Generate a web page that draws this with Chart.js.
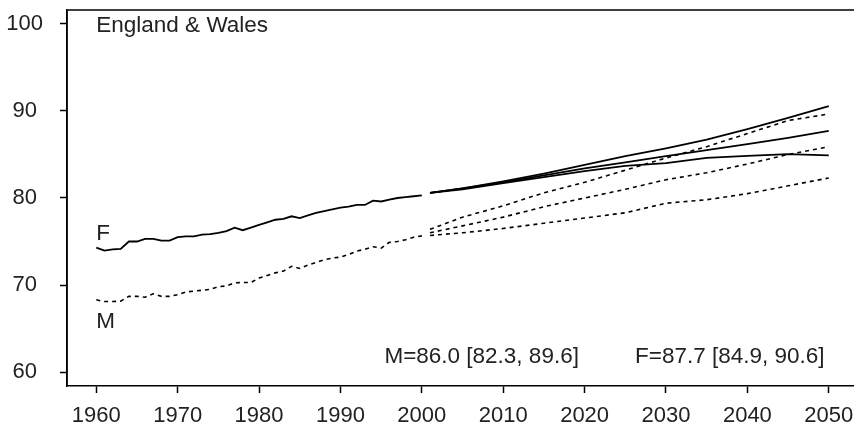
<!DOCTYPE html>
<html>
<head>
<meta charset="utf-8">
<script src="https://cdn.jsdelivr.net/npm/chart.js@4.4.0/dist/chart.umd.min.js"></script>
<style>
  html, body { margin: 0; padding: 0; background: #fff; }
  #wrap { width: 854px; height: 428px; }
</style>
</head>
<body>
<div id="wrap"><canvas id="chart" width="854" height="428"></canvas></div>
<script>
// observed years and life expectancy
const histYears = [1960, 1961, 1962, 1963, 1964, 1965, 1966, 1967, 1968, 1969,
  1970, 1971, 1972, 1973, 1974, 1975, 1976, 1977, 1978, 1979,
  1980, 1981, 1982, 1983, 1984, 1985, 1986, 1987, 1988, 1989,
  1990, 1991, 1992, 1993, 1994, 1995, 1996, 1997, 1998, 1999, 2000];
const femaleHist = [74.3, 73.95, 74.1, 74.15, 75.0, 75.0, 75.3, 75.3, 75.1, 75.1,
  75.5, 75.6, 75.6, 75.8, 75.85, 76.0, 76.2, 76.6, 76.3, 76.6,
  76.9, 77.2, 77.5, 77.6, 77.9, 77.7, 78.0, 78.3, 78.5, 78.7,
  78.9, 79.0, 79.2, 79.2, 79.7, 79.6, 79.8, 80.0, 80.1, 80.2, 80.3];
const maleHist = [68.3, 68.1, 68.1, 68.15, 68.7, 68.7, 68.6, 69.0, 68.7, 68.7,
  68.9, 69.2, 69.3, 69.4, 69.5, 69.8, 69.9, 70.25, 70.3, 70.3,
  70.8, 71.1, 71.4, 71.6, 72.15, 71.9, 72.3, 72.6, 72.9, 73.1,
  73.2, 73.5, 73.9, 74.1, 74.4, 74.25, 74.9, 75.0, 75.2, 75.5, 75.65];

// projections (median and interval bounds)
const projYears = [2001, 2005, 2010, 2015, 2020, 2025, 2030, 2035, 2040, 2045, 2050];
const femaleUpper = [80.6, 81.1, 81.9, 82.8, 83.8, 84.8, 85.7, 86.7, 87.9, 89.2, 90.55];
const femaleMedian = [80.6, 81.1, 81.8, 82.6, 83.4, 84.1, 84.8, 85.5, 86.2, 86.9, 87.7];
const femaleLower = [80.6, 81.0, 81.7, 82.4, 83.1, 83.7, 84.0, 84.6, 84.85, 85.05, 84.9];
const maleUpper = [76.4, 77.8, 79.1, 80.6, 81.8, 83.2, 84.6, 85.9, 87.4, 88.9, 89.65];
const maleMedian = [76.0, 76.8, 77.8, 79.0, 80.0, 81.0, 82.1, 82.9, 83.9, 85.0, 85.9];
const maleLower = [75.7, 76.0, 76.5, 77.1, 77.7, 78.3, 79.4, 79.8, 80.5, 81.4, 82.3];

const xTicks = [1960, 1970, 1980, 1990, 2000, 2010, 2020, 2030, 2040, 2050];
const yTicks = [60, 70, 80, 90, 100];

const labels = [
  { text: "England & Wales", x: 1960, y: 99.1 },
  { text: "F", x: 1960, y: 75.2 },
  { text: "M", x: 1960, y: 65.1 },
  { text: "M=86.0 [82.3, 89.6]", x: 1995.4, y: 61.0 },
  { text: "F=87.7 [84.9, 90.6]", x: 2026.2, y: 61.0 }
];

const FONT = "Liberation Sans, Arial, sans-serif";
const INK = "#222";

function toPoints(xs, ys) {
  return xs.map((x, i) => ({ x, y: ys[i] }));
}

function series(xs, ys, dashed) {
  return {
    data: toPoints(xs, ys),
    borderColor: "#000",
    borderWidth: dashed ? 1.6 : 1.8,
    borderDash: dashed ? [4, 4] : [],
    pointRadius: 0,
    fill: false,
    tension: 0
  };
}

const frameAndText = {
  id: "frameAndText",
  afterDraw(chart) {
    const { ctx, chartArea, scales } = chart;
    ctx.save();
    ctx.strokeStyle = "#000";
    ctx.lineWidth = 1.5;
    ctx.beginPath();
    ctx.moveTo(chartArea.left, chartArea.bottom);
    ctx.lineTo(chartArea.left, chartArea.top);
    ctx.lineTo(chartArea.right + 5, chartArea.top);
    ctx.stroke();

    ctx.fillStyle = INK;
    ctx.font = "22.5px " + FONT;
    ctx.textAlign = "left";
    ctx.textBaseline = "alphabetic";
    labels.forEach((l) => {
      ctx.fillText(l.text, scales.x.getPixelForValue(l.x), scales.y.getPixelForValue(l.y));
    });
    ctx.restore();
  }
};

new Chart(document.getElementById("chart"), {
  type: "line",
  data: {
    datasets: [
      series(histYears, femaleHist, false),
      series(histYears, maleHist, true),
      series(projYears, femaleUpper, false),
      series(projYears, femaleMedian, false),
      series(projYears, femaleLower, false),
      series(projYears, maleUpper, true),
      series(projYears, maleMedian, true),
      series(projYears, maleLower, true)
    ]
  },
  options: {
    responsive: false,
    animation: false,
    events: [],
    layout: { padding: { top: 10, right: 0, left: 0, bottom: 0 } },
    plugins: { legend: { display: false }, tooltip: { enabled: false } },
    scales: {
      x: {
        type: "linear",
        min: 1956.4,
        max: 2053.1,
        afterBuildTicks: (axis) => { axis.ticks = xTicks.map((v) => ({ value: v })); },
        afterFit: (axis) => { axis.height = 42; axis.paddingLeft = 0; axis.paddingRight = 0; },
        grid: { drawOnChartArea: false, drawTicks: true, tickLength: 7, tickColor: "#000", tickWidth: 1.5 },
        border: { display: true, color: "#000", width: 1.5 },
        ticks: { color: INK, font: { family: FONT, size: 22 }, padding: 10, maxRotation: 0, autoSkip: false,
          callback: (v) => String(v) }
      },
      y: {
        min: 58.4,
        max: 101.6,
        afterBuildTicks: (axis) => { axis.ticks = yTicks.map((v) => ({ value: v })); },
        afterFit: (axis) => { axis.width = 67; axis.paddingTop = 0; axis.paddingBottom = 0; },
        grid: { drawOnChartArea: false, drawTicks: true, tickLength: 7, tickColor: "#000", tickWidth: 1.5 },
        border: { display: true, color: "#000", width: 1.5 },
        ticks: { color: INK, font: { family: FONT, size: 22 }, padding: 17, crossAlign: "center",
          callback: (v) => String(v) }
      }
    }
  },
  plugins: [frameAndText]
});
</script>
</body>
</html>
